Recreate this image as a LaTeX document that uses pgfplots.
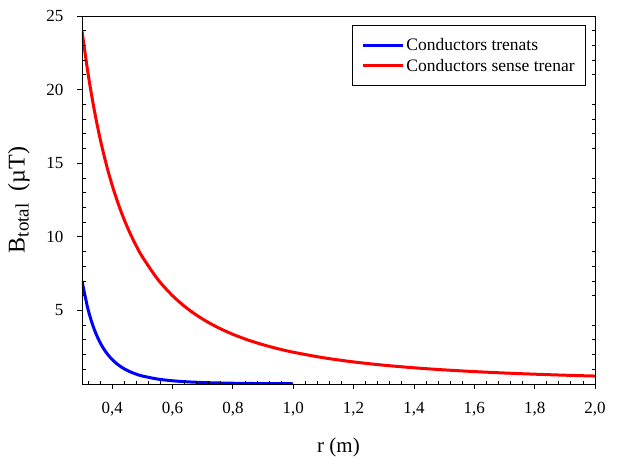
\documentclass[border=0pt]{standalone}
\usepackage{fontspec}
\setmainfont{Liberation Serif}
\usepackage{pgfplots}
\pgfplotsset{compat=1.18}

\pgfplotsset{
  frame/.style={
    width=513pt, height=368pt, scale only axis,
    xmin=0.3, xmax=2.0, ymin=0, ymax=25,
    axis line style={line width=0.8pt},
    tick style={black, line width=0.8pt},
  },
}

\begin{document}
\begin{tikzpicture}
\begin{axis}[
  frame, name=A,
  xtick={0.4,0.6,0.8,1.0,1.2,1.4,1.6,1.8,2.0},
  ytick={5,10,15,20,25},
  minor tick num=0,
  tick align=outside, major tick length=5pt,
  xtick pos=bottom, ytick pos=left,
  /pgf/number format/assume math mode=true,
  ticklabel style={font=\fontsize{17}{20}\selectfont},
  xticklabel style={/pgf/number format/fixed, /pgf/number format/fixed zerofill,
    /pgf/number format/precision=1, /pgf/number format/use comma, yshift=-10pt},
  yticklabel style={xshift=-10pt},
  xlabel={r (m)},
  xlabel style={at={(axis description cs:0.5,0)}, anchor=center, yshift=-63pt,
    font=\fontsize{21}{24}\selectfont},
  ylabel={B\raisebox{-0.35ex}{\fontsize{19}{20}\selectfont total}\ \ (µT)},
  ylabel style={at={(axis description cs:-0.123,0.5)}, anchor=center,
    font=\fontsize{24}{26}\selectfont},
  legend cell align=left,
  legend image code/.code={\draw[#1, line width=3pt] (-4pt,0pt) -- (36pt,0pt);},
  legend style={at={(axis description cs:1,1)}, anchor=north east,
    xshift=-9pt, yshift=-9pt, draw=black, line width=0.8pt, row sep=3.2pt,
    font=\fontsize{17.5}{21}\selectfont, inner xsep=9pt, inner ysep=10.8pt},
]
\addplot[blue, line width=3pt, smooth] coordinates {
  (0.30,7.000) (0.32,5.069) (0.34,3.744) (0.36,2.813) (0.38,2.147)
  (0.40,1.661) (0.42,1.302) (0.44,1.031) (0.46,0.826) (0.48,0.668)
  (0.50,0.544) (0.55,0.338) (0.60,0.219) (0.65,0.147) (0.70,0.101)
  (0.75,0.0717) (0.80,0.0519) (0.85,0.0383) (0.90,0.0288) (0.95,0.0220)
  (1.00,0.0170)
};
\addlegendentry{Conductors trenats}
\addplot[red, line width=3pt, smooth] coordinates {
  (0.30,24.000) (0.32,21.094) (0.34,18.685) (0.36,16.667) (0.38,14.958)
  (0.40,13.500) (0.42,12.245) (0.44,11.157) (0.46,10.208) (0.48,9.375)
  (0.50,8.640) (0.55,7.140) (0.60,6.000) (0.65,5.112) (0.70,4.408)
  (0.75,3.840) (0.80,3.375) (0.85,2.990) (0.90,2.667) (0.95,2.393)
  (1.00,2.160) (1.10,1.785) (1.20,1.500) (1.30,1.278) (1.40,1.102)
  (1.50,0.960) (1.60,0.844) (1.70,0.747) (1.80,0.667) (1.90,0.598)
  (2.00,0.540)
};
\addlegendentry{Conductors sense trenar}
\end{axis}
\begin{axis}[
  frame,
  xtick={0.4,0.6,0.8,1.0,1.2,1.4,1.6,1.8,2.0},
  ytick={5,10,15,20,25},
  minor xtick={0.32,0.36,0.44,0.48,0.52,0.56,0.64,0.68,0.72,0.76,0.84,0.88,0.92,0.96,
    1.04,1.08,1.12,1.16,1.24,1.28,1.32,1.36,1.44,1.48,1.52,1.56,1.64,1.68,1.72,1.76,
    1.84,1.88,1.92,1.96},
  minor ytick={1,2,3,4,6,7,8,9,11,12,13,14,16,17,18,19,21,22,23,24},
  xticklabels={}, yticklabels={},
  tick align=inside, major tick length=0pt, minor tick length=3.5pt,
  xtick pos=bottom, ytick pos=both,
]
\end{axis}
\path ([xshift=-82pt,yshift=-72pt]A.south west) rectangle ([xshift=25pt,yshift=16pt]A.north east);
\end{tikzpicture}
\end{document}
